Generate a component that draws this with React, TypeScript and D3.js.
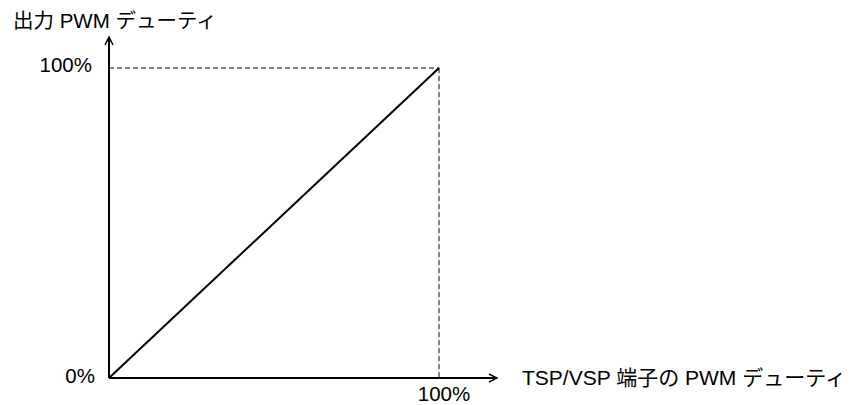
import React from "react";
import * as d3 from "d3";

const inputDuty = [0, 100];
const outputDuty = [0, 100];
const tickLabels = ["0%", "100%"];
const yTitle = "出力 PWM デューティ";
const xTitle = "TSP/VSP 端子の PWM デューティ";

export default function App() {
  const W = 852, H = 405;
  const x0 = 109, y0 = 378;
  const x = d3.scaleLinear().domain([0, 100]).range([x0, 439]);
  const y = d3.scaleLinear().domain([0, 100]).range([y0, 68]);
  const line = d3.line<number>().x((_, i) => x(inputDuty[i])).y((d) => y(d));
  const font = "'Liberation Sans', Arial, 'Noto Sans CJK JP', sans-serif";
  const fs = 20.5;
  return (
    <svg width={W} height={H} style={{ position: "absolute", left: 0, top: 0, background: "#fff" }} fontFamily={font}>
      <defs>
        <marker id="arr" viewBox="0 0 10 10" refX="9" refY="5" markerWidth="10" markerHeight="10" markerUnits="userSpaceOnUse" orient="auto">
          <path d="M1,1 L9,5 L1,9" fill="none" stroke="#000" strokeWidth={1.5} />
        </marker>
      </defs>
      {/* dashed guides */}
      <line x1={x(0)} y1={y(100)} x2={x(100)} y2={y(100)} stroke="#000" strokeWidth={1} strokeDasharray="5,3" />
      <line x1={x(100)} y1={y(100)} x2={x(100)} y2={y(0)} stroke="#000" strokeWidth={1} strokeDasharray="5,3" />
      {/* axes */}
      <line x1={x0} y1={y0} x2={x0} y2={37} stroke="#000" strokeWidth={2} markerEnd="url(#arr)" />
      <line x1={x0} y1={y0} x2={497} y2={y0} stroke="#000" strokeWidth={2} markerEnd="url(#arr)" />
      {/* data line */}
      <path d={line(outputDuty) || ""} fill="none" stroke="#000" strokeWidth={2} />
      {/* labels */}
      <text x={92} y={y(100) - 3} dy="0.35em" textAnchor="end" fontSize={fs}>{tickLabels[1]}</text>
      <text x={95} y={y(0) - 2} dy="0.35em" textAnchor="end" fontSize={fs}>{tickLabels[0]}</text>
      <text x={x(100) + 5} y={401} textAnchor="middle" fontSize={fs}>{tickLabels[1]}</text>
      <text x={13} y={28} fontSize={fs}>{yTitle}</text>
      <text x={522} y={y0} dy="0.35em" fontSize={21}>{xTitle}</text>
    </svg>
  );
}
